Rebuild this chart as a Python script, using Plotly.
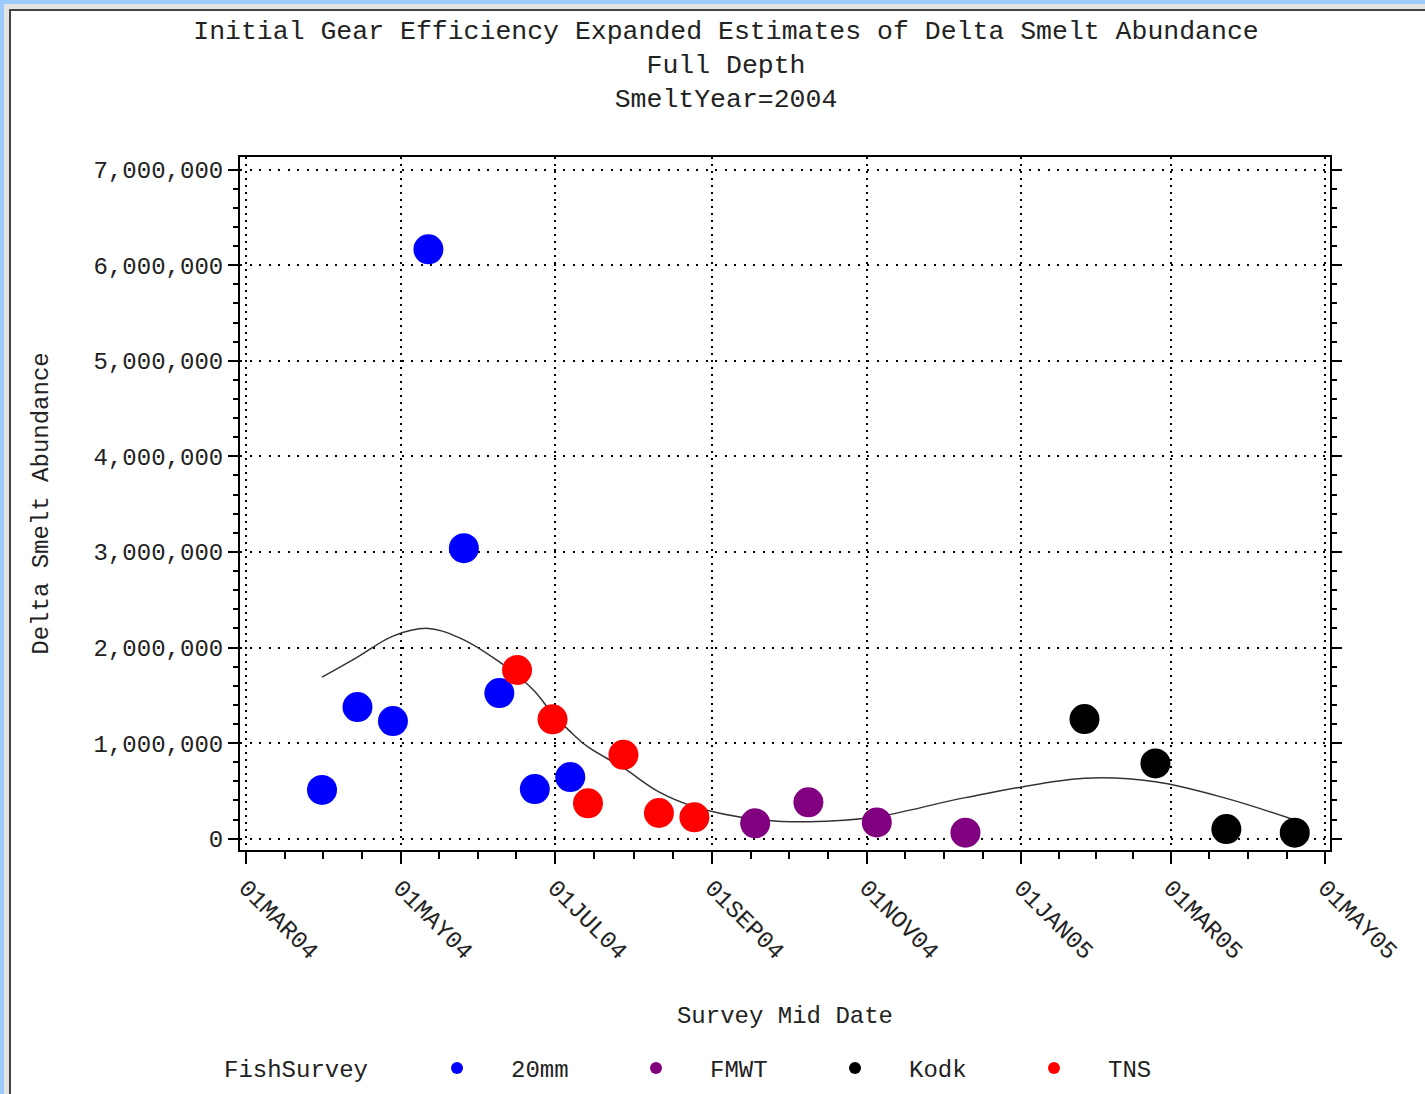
import plotly.graph_objects as go
import pandas as pd

# ---------------- data ----------------
d20_dates = ["2004-03-31", "2004-04-14", "2004-04-28", "2004-05-12",
             "2004-05-26", "2004-06-09", "2004-06-23", "2004-07-07"]
d20_vals = [510000, 1377000, 1231000, 6166000, 3039000, 1524000, 520000, 645000]

fmwt_dates = ["2004-09-18", "2004-10-09", "2004-11-05", "2004-12-10"]
fmwt_vals = [161000, 381000, 171000, 63000]

kodk_dates = ["2005-01-26", "2005-02-23", "2005-03-23", "2005-04-19"]
kodk_vals = [1252000, 788000, 101000, 63000]

tns_dates = ["2004-06-16", "2004-06-30", "2004-07-14", "2004-07-28",
             "2004-08-11", "2004-08-25"]
tns_vals = [1764000, 1249000, 370000, 878000, 269000, 224000]

smooth_dates = ["2004-03-31", "2004-04-14", "2004-04-28", "2004-05-12", "2004-05-26",
                "2004-06-09", "2004-06-16", "2004-06-23", "2004-06-30", "2004-07-07",
                "2004-07-14", "2004-07-28", "2004-08-11", "2004-08-25", "2004-09-18",
                "2004-10-09", "2004-11-05", "2004-12-10", "2005-01-26", "2005-02-23",
                "2005-03-23", "2005-04-19"]
smooth_vals = [1690000, 1900000, 2120000, 2200000, 2080000,
               1850000, 1710000, 1540000, 1310000, 1120000,
               960000, 740000, 490000, 335000, 205000,
               178000, 230000, 430000, 632000, 596000,
               422000, 196000]

x_tick_dates = ["2004-03-01", "2004-05-01", "2004-07-01", "2004-09-01",
                "2004-11-01", "2005-01-01", "2005-03-01", "2005-05-01"]
x_tick_labels = ["01MAR04", "01MAY04", "01JUL04", "01SEP04",
                 "01NOV04", "01JAN05", "01MAR05", "01MAY05"]
y_tick_vals = [0, 1000000, 2000000, 3000000, 4000000, 5000000, 6000000, 7000000]

series = [
    ("20mm", d20_dates, d20_vals, "#0000FF"),
    ("FMWT", fmwt_dates, fmwt_vals, "#800080"),
    ("Kodk", kodk_dates, kodk_vals, "#000000"),
    ("TNS", tns_dates, tns_vals, "#FF0000"),
]

# minor x ticks: each major interval split in four
_maj = pd.to_datetime(x_tick_dates)
minor_x = []
for a, b in zip(_maj[:-1], _maj[1:]):
    for k in (1, 2, 3):
        minor_x.append((a + (b - a) * k / 4).strftime("%Y-%m-%d %H:%M"))

FONT = "Liberation Mono"
TXT = "#222222"

# plot area in pixels
L, R, T, B = 240, 1330, 157, 850
W, H = 1425, 1094
PW, PH = R - L, B - T


def px(x):
    return (x - L) / PW


def py(y):
    return (B - y) / PH


fig = go.Figure()

fig.add_trace(go.Scatter(
    x=smooth_dates, y=smooth_vals, mode="lines",
    line=dict(color="#333333", width=1.5, shape="spline", smoothing=1.0),
    showlegend=False, hoverinfo="skip"))

for name, xs, ys, col in series:
    fig.add_trace(go.Scatter(
        x=xs, y=ys, mode="markers", name=name,
        marker=dict(size=30, color=col, line=dict(width=0))))

axis_font = dict(family=FONT, size=24, color=TXT)

fig.update_layout(
    width=W, height=H,
    margin=dict(l=L, r=W - R, t=T, b=H - B, autoexpand=False),
    paper_bgcolor="white", plot_bgcolor="white",
    title=dict(
        text="Initial Gear Efficiency Expanded Estimates of Delta Smelt Abundance"
             "<br>Full Depth<br>SmeltYear=2004",
        x=726 / W, xanchor="center", xref="container",
        y=1 - 38.5 / H, yanchor="top", yref="container",
        font=dict(family=FONT, size=26.5, color=TXT)),
    xaxis=dict(
        type="date",
        range=["2004-02-27 15:00", "2005-05-02 22:00"],
        tickmode="array", tickvals=x_tick_dates, ticktext=x_tick_labels,
        tickangle=45, tickfont=axis_font,
        ticks="outside", ticklen=12, tickwidth=2, tickcolor="black",
        showline=True, linecolor="black", linewidth=2, mirror=True,
        showgrid=True, gridcolor="black", gridwidth=1.5, griddash="2px,5px",
        zeroline=False,
        minor=dict(tickmode="array", tickvals=minor_x, ticks="outside",
                   ticklen=7, tickwidth=1.5, tickcolor="black", showgrid=False),
        title=dict(text="Survey Mid Date", font=axis_font, standoff=42),
    ),
    yaxis=dict(
        range=[-118000, 7132000],
        tickmode="array", tickvals=y_tick_vals, tickformat=",d",
        tickfont=axis_font, ticklabelstandoff=0,
        ticks="outside", ticklen=10, tickwidth=2, tickcolor="black",
        showline=True, linecolor="black", linewidth=2, mirror="ticks",
        showgrid=True, gridcolor="black", gridwidth=1.5, griddash="2px,7.5px",
        zeroline=False,
        minor=dict(dtick=200000, tick0=0, ticks="outside", ticklen=5,
                   tickwidth=1.5, tickcolor="black", showgrid=False),
        title=dict(text="Delta Smelt Abundance", font=axis_font, standoff=38),
    ),
    legend=dict(
        orientation="h", x=px(403), xanchor="left", y=py(1046), yanchor="top",
        font=axis_font, itemsizing="constant", itemwidth=98,
        entrywidth=86, entrywidthmode="pixels",
        bgcolor="rgba(0,0,0,0)", traceorder="normal"),
    annotations=[
        dict(text="FishSurvey", xref="paper", yref="paper", x=px(222), y=py(1070),
             xanchor="left", yanchor="middle", showarrow=False, font=axis_font),
    ],
    shapes=[
        dict(type="rect", xref="paper", yref="paper", x0=px(0), x1=px(4), y0=py(H), y1=py(0),
             fillcolor="#9CCBFB", line=dict(width=0), layer="above"),
        dict(type="rect", xref="paper", yref="paper", x0=px(0), x1=px(W), y0=py(4), y1=py(0),
             fillcolor="#9CCBFB", line=dict(width=0), layer="above"),
        dict(type="rect", xref="paper", yref="paper", x0=px(4), x1=px(9), y0=py(H), y1=py(4),
             fillcolor="#E4E4E4", line=dict(width=0), layer="above"),
        dict(type="rect", xref="paper", yref="paper", x0=px(4), x1=px(W), y0=py(9), y1=py(4),
             fillcolor="#E4E4E4", line=dict(width=0), layer="above"),
        dict(type="rect", xref="paper", yref="paper", x0=px(9), x1=px(11), y0=py(H), y1=py(9),
             fillcolor="#444444", line=dict(width=0), layer="above"),
        dict(type="rect", xref="paper", yref="paper", x0=px(9), x1=px(W), y0=py(11), y1=py(9),
             fillcolor="#444444", line=dict(width=0), layer="above"),
    ],
)

fig.write_html("out.html", config={"displayModeBar": False},
               post_script="document.body.style.margin='0';")
